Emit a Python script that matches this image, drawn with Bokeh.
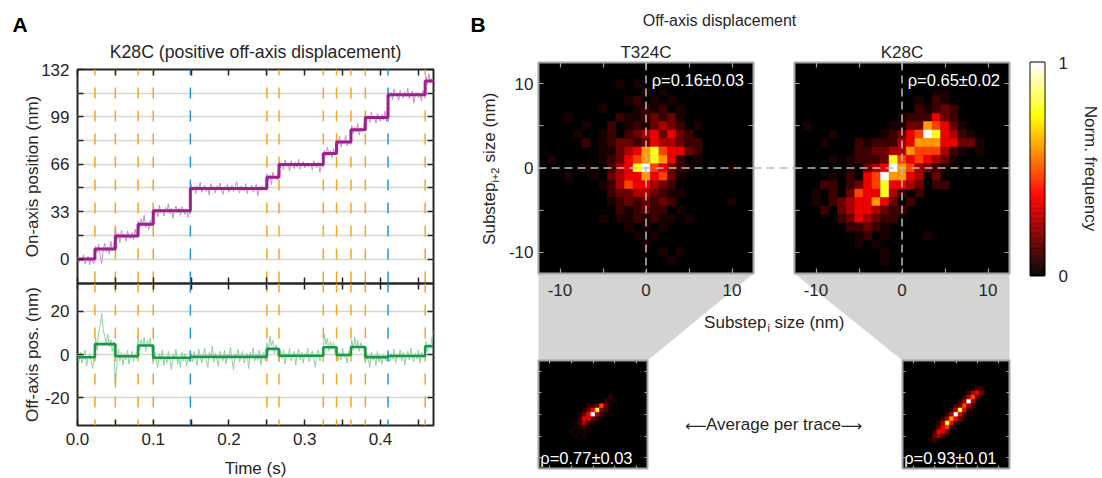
import numpy as np
from bokeh.plotting import figure
from bokeh.models import (Range1d, LinearAxis, FixedTicker, PrintfTickFormatter,
                          Label, GridBox, ColumnDataSource, Span)
from bokeh.core.properties import value
from bokeh.transform import linear_cmap
from bokeh.embed import file_html
from bokeh.resources import INLINE

W, H = 1102, 478
FONT = "Liberation Sans"
INK = "#262626"
FS = "17px"

# ======================= Panel A data =======================
SAMPLE_DT = 0.002  # s between trace samples
on_axis_trace = [
    1.5, -2.5, 0.5, -1.0, 3.0, -3.5, -0.5, 2.0, -4.0, 1.0, -1.5, -3.0,
    9.0, 4.5, 10.5, 2.0, -3.0, 6.5, 11.0, 5.0, 8.5, 3.5, 12.5, 6.0, 9.5,
    22.5, 13.0, 18.0, 11.5, 20.0, 15.0, 17.5, 12.5, 19.5, 16.0, 14.0, 18.5, 13.5, 21.0, 15.5,
    26.5, 21.0, 28.0, 23.5, 30.5, 22.0, 25.5, 20.5, 27.0, 24.0,
    36.5, 31.0, 35.0, 29.5, 37.5, 32.5, 34.5, 30.0, 36.0, 33.0, 38.5, 31.5, 35.5,
    28.5, 34.0, 37.0, 32.0, 35.5, 30.5, 36.5, 33.5, 31.0, 34.5, 29.0, 32.5,
    52.0, 47.5, 50.5, 45.5, 51.0, 48.0, 53.5, 46.5, 49.5, 51.5, 47.0, 50.0, 44.5,
    52.5, 48.5, 50.5, 46.0, 51.0, 49.0, 53.0, 47.5, 45.0, 50.5, 48.0, 52.0, 46.5,
    49.5, 51.5, 47.0, 50.0, 54.0, 48.5, 46.0, 51.0, 49.5, 47.5, 52.5, 45.5, 50.0,
    48.0, 51.5, 46.5, 49.0, 52.0, 44.0, 50.5, 47.5, 51.0, 48.5, 50.0,
    59.5, 54.5, 58.5, 52.0, 60.5, 56.0, 58.0, 55.0,
    68.0, 63.5, 67.0, 62.0, 69.0, 64.5, 66.5, 61.5, 68.5, 65.0, 63.0, 67.5, 64.0, 69.5, 62.5,
    66.0, 68.0, 63.5, 65.5, 67.0, 64.0, 66.5, 62.0, 68.5, 65.0, 63.5, 67.5, 60.5, 66.0, 64.5,
    76.0, 71.5, 78.0, 72.0, 75.5, 70.5, 77.0, 73.0,
    84.0, 79.5, 85.5, 78.0, 83.0, 80.5, 86.0, 79.0, 82.5, 80.0,
    93.0, 87.5, 92.0, 88.5, 94.5, 86.5, 91.5, 89.0, 92.5,
    101.0, 96.5, 100.0, 95.0, 102.5, 97.5, 99.5, 94.5, 101.5, 98.0, 96.0, 100.5, 97.0, 103.0, 95.5,
    117.0, 112.5, 116.0, 111.0, 118.5, 113.5, 115.5, 110.5, 117.5, 114.0, 112.0, 116.5, 113.0,
    119.0, 111.5, 115.0, 117.0, 108.5, 114.5, 116.0, 112.5, 115.5, 110.0, 117.5, 113.5,
    127.5, 121.5, 129.0, 122.5, 126.0, 123.5,
]
off_axis_trace = [
    0.5, -3.5, 1.0, -4.0, -0.5, 2.0, -5.5, -1.5, 0.5, -3.0, -6.5, -1.0,
    7.5, 2.0, 10.5, 14.0, 19.0, 11.0, 8.5, 5.0, 9.5, 3.5, 7.0, 1.5, 6.0,
    -15.5, -4.0, 2.5, -3.0, 1.0, -5.0, 0.5, -2.5, 2.0, -4.5, -1.0, 1.5, -3.5, 0.0, -2.0,
    8.5, 2.0, 7.0, 3.5, 8.0, 1.5, 6.5, 4.0, 7.5, 2.5,
    -4.5, 1.0, -3.5, -6.0, 0.5, -2.5, 2.0, -5.0, -1.0, -4.0, 1.5, -3.0, -7.0,
    0.0, -2.0, 2.5, -4.5, -1.5, -6.0, 1.0, -3.0, 0.5, -5.5, -2.0, -3.5,
    0.5, -3.5, 1.5, -2.0, -5.0, 2.5, -1.0, -4.0, 0.0, 3.0, -2.5, -6.0, 1.0,
    -1.5, 4.0, -3.5, 0.5, -2.0, -5.5, 1.5, -0.5, -3.0, 2.0, -4.5, 0.0, -1.5,
    3.5, -2.5, -7.0, 0.5, -1.0, 2.5, -3.5, -0.5, 1.5, -4.0, -2.0, 0.5, -6.5,
    1.0, -1.5, 3.0, -3.0, 0.0, -2.5, 2.0, -5.0, -0.5, 1.0, -3.0,
    5.5, 1.0, 8.5, 4.0, 6.5, 0.5, 4.5, 2.0,
    -3.5, 1.5, -2.0, 2.0, -4.5, 0.5, -1.5, 3.0, -3.0, -0.5, 1.5, -5.0, 0.0, 2.5, -2.5,
    1.0, -4.0, 0.5, -1.0, 3.0, -3.5, 0.0, 1.5, -2.0, -6.0, 0.5, 2.0, -3.0, -1.0, 1.0,
    9.5, 4.5, 7.5, 1.5, 6.0, 2.5, 5.5, 1.0,
    2.5, -3.0, 1.0, -2.5, 3.0, -1.5, 0.5, -4.0, 1.5, -1.0,
    7.0, 2.0, 8.0, 3.0, 6.5, 1.5, 5.5, 4.0, 2.5,
    -4.0, 0.5, -3.0, -6.0, 1.0, -2.5, -0.5, -5.0, 1.5, -3.5, -1.0, -4.5, 0.0, -2.0, -3.0,
    1.0, -3.5, 0.5, -2.0, 2.5, -4.0, 0.0, -1.5, 2.0, -3.0, 1.0, -5.0, -0.5,
    1.5, -2.5, 3.0, -1.0, -3.5, 0.5, -2.0, 2.0, -4.0, 1.0, -1.5, 0.5,
    6.0, 1.5, 5.0, 3.0, 8.0, 11.0,
]
step_times = [0.0, 0.023, 0.050, 0.080, 0.100, 0.149, 0.250, 0.266, 0.3245,
              0.342, 0.361, 0.380, 0.410, 0.459, 0.470]
on_axis_steps = [0.0, 7.0, 16.0, 24.2, 33.6, 49.2, 57.0, 65.8, 73.5, 81.5, 90.0,
                 98.5, 114.5, 124.0]
off_axis_steps = [-1.3, 4.8, -0.8, 4.2, -1.5, -1.1, 2.6, -0.6, 3.4, -0.2, 3.5,
                  -1.2, -0.7, 3.8]
boundary_type = ["sub", "sub", "sub", "sub", "full", "sub", "sub", "sub", "sub",
                 "sub", "sub", "full", "sub"]

time_ticks = [0.0, 0.1, 0.2, 0.3, 0.4]
time_minor = [0.05, 0.15, 0.25, 0.35, 0.45]
on_axis_ticks = [0, 33, 66, 99, 132]
on_axis_minor = [16.5, 49.5, 82.5, 115.5]
off_axis_ticks = [-20, 0, 20]
TIME_RANGE = (0.0, 0.47)
ON_RANGE = (-17.0, 132.0)
OFF_RANGE = (-33.0, 33.0)

# ======================= Panel B data =======================
# digit code per 1-nm bin -> normalised frequency
LEVEL_LOOKUP = [0.0, 0.04, 0.09, 0.16, 0.25, 0.35, 0.47, 0.60, 0.78, 1.0]
t324c_hist = [
    "00000 00000 00000 00000 00000",
    "00000 00000 00010 00000 00000",
    "00000 00001 01000 00000 00000",
    "00000 00000 00101 00000 00000",
    "00000 00000 12010 10000 00000",
    "00000 00100 01212 01000 00000",
    "00010 00002 11232 31000 00000",
    "00000 10020 12134 32010 00000",
    "00001 00120 23453 53200 00000",
    "00000 20123 32354 43220 00000",
    "00000 00113 45786 55320 00000",
    "01000 00123 56787 52010 00000",
    "00000 10024 58965 32100 00100",
    "00010 01034 55756 31000 00000",
    "00000 00124 65543 20000 00000",
    "00000 00023 34432 11000 00000",
    "00000 00012 32323 20000 00100",
    "00000 00002 12322 01000 00000",
    "00000 00101 12121 10100 00000",
    "00000 00000 10101 00000 00000",
    "00000 00000 01010 00000 00000",
    "00000 00000 00100 00000 00000",
    "00000 00000 00001 01000 00000",
    "00000 00000 00000 10000 00000",
    "00000 00000 00000 00000 00000",
]
k28c_hist = [
    "00000 00000 00000 00000 00000",
    "00000 00000 00000 00000 00000",
    "00000 00000 00000 00000 00000",
    "00000 00000 00000 01100 00000",
    "00000 00000 00001 02100 00000",
    "00000 00000 00002 12320 00000",
    "00000 00000 00122 25320 00000",
    "01000 00000 01133 76531 00000",
    "00001 00000 12356 98542 10000",
    "00010 00212 22457 77553 31000",
    "00000 00223 34476 66421 01000",
    "00001 01222 38656 54310 00000",
    "00000 01034 59764 32100 00000",
    "00001 02056 97754 03000 00000",
    "00022 02356 85543 02200 00000",
    "00102 03655 84202 00000 00000",
    "00102 34557 53020 00000 00000",
    "00020 34554 32200 00000 00000",
    "00000 23543 22000 00000 00000",
    "00000 02232 10000 00000 00000",
    "00000 00120 10000 10000 00000",
    "00000 00101 00000 00000 00000",
    "00000 00000 10000 00000 00000",
    "00000 00000 10000 00000 00000",
    "00000 00000 00000 00000 00000",
]
t324c_trace_avg = [
    "00000 00000 00000 00000 00000",
    "00000 00000 00000 00000 00000",
    "00000 00000 00000 00000 00000",
    "00000 00000 00000 00000 00000",
    "00000 00000 00000 00000 00000",
    "00000 00000 00000 00000 00000",
    "00000 00000 00000 00000 00000",
    "00000 00000 00000 00000 00000",
    "00000 00000 00000 02000 00000",
    "00000 00000 00000 21100 00000",
    "00000 00000 02236 30000 00000",
    "00000 00000 13583 20000 00000",
    "00000 00001 35942 01000 00000",
    "00000 00002 55320 00000 00000",
    "00000 00012 42100 00000 00000",
    "00000 00011 21000 00000 00000",
    "00000 00101 10000 00000 00000",
    "00000 00010 10000 00000 00000",
    "00000 00000 00000 00000 00000",
    "00000 00000 00000 00000 00000",
    "00000 00000 00000 00000 00000",
    "00000 00000 00000 00000 00000",
    "00000 00000 00000 00000 00000",
    "00000 00000 00000 00000 00000",
    "00000 00000 00000 00000 00000",
]
k28c_trace_avg = [
    "00000 00000 00000 00000 00000",
    "00000 00000 00000 00000 00000",
    "00000 00000 00000 00000 00000",
    "00000 00000 00000 00000 00000",
    "00000 00000 00000 00000 00000",
    "00000 00000 00000 00000 00000",
    "00000 00000 00000 00220 00000",
    "00000 00000 00000 24530 00000",
    "00000 00000 00002 46300 00000",
    "00000 00000 00024 94100 00000",
    "00000 00000 00236 42000 00000",
    "00000 00000 02485 20000 00000",
    "00000 00000 24952 00000 00000",
    "00000 00002 47530 00000 00000",
    "00000 00024 85200 00000 00000",
    "00000 00035 62000 00000 00000",
    "00000 00255 30000 00000 00000",
    "00000 00342 00000 00000 00000",
    "00000 01210 00000 00000 00000",
    "00000 00000 00000 00000 00000",
    "00000 00000 00000 00000 00000",
    "00000 00000 00000 00000 00000",
    "00000 00000 00000 00000 00000",
    "00000 00000 00000 00000 00000",
    "00000 00000 00000 00000 00000",
]
rho_t324c = "ρ=0.16±0.03"
rho_k28c = "ρ=0.65±0.02"
rho_t324c_avg = "ρ=0.77±0.03"
rho_k28c_avg = "ρ=0.93±0.01"
hm_ticks = [-10, 0, 10]
hm_minor = [-5, 5]
HM_RANGE = (-12.5, 12.5)

# ======================= layout (pixels from top-left) =======================
A_L, A_R = 77, 433
A1_T, A1_B = 69, 283
A2_T, A2_B = 283, 425
HM_T, HM_B = 62, 273
HM1_L, HM1_R = 538, 753
HM2_L, HM2_R = 794, 1009
CB_L, CB_R, CB_T, CB_B = 1030, 1044, 62, 275
SM_T, SM_B = 360, 468
SM1_L, SM1_R = 538, 647
SM2_L, SM2_R = 902, 1009

GRID = "#d6d6d6"
FRAME_GRAY = "#a3a3a3"
DASH_GRAY = "#bdbdbd"
CONNECT_GRAY = "#d4d4d4"
ORANGE = "#f6a623"
BLUE = "#1f9ad6"

# MATLAB-like "hot" colormap
HOT = []
for k in range(256):
    f = k / 255.0
    r = min(1.0, f / 0.375)
    g = min(1.0, max(0.0, (f - 0.375) / 0.375))
    b = min(1.0, max(0.0, (f - 0.75) / 0.25))
    HOT.append("#%02x%02x%02x" % (round(r * 255), round(g * 255), round(b * 255)))


def layer(L, T, R, B, xr, yr):
    p = figure(width=W, height=H, x_range=xr, y_range=yr, output_backend="svg",
               toolbar_location=None, x_axis_location=None, y_axis_location=None,
               min_border_left=L, min_border_right=W - R,
               min_border_top=T, min_border_bottom=H - B)
    p.frame_align = False
    p.border_fill_color = None
    p.background_fill_color = None
    p.outline_line_color = None
    p.xgrid.visible = False
    p.ygrid.visible = False
    return p


def axis(p, side, ticks, minor, color, labels, fmt="%d", tick_len=6, standoff=7, width=1.5):
    ax = LinearAxis(ticker=FixedTicker(ticks=ticks, minor_ticks=minor))
    ax.axis_line_color = None
    ax.major_tick_in = tick_len
    ax.major_tick_out = 0
    ax.minor_tick_in = tick_len
    ax.minor_tick_out = 0
    ax.major_tick_line_color = color
    ax.minor_tick_line_color = color
    ax.major_tick_line_width = width
    ax.minor_tick_line_width = width
    ax.major_label_text_font = FONT
    ax.major_label_text_font_size = FS
    ax.major_label_text_color = INK
    ax.major_label_standoff = standoff
    ax.formatter = PrintfTickFormatter(format=fmt if labels else "")
    p.add_layout(ax, side)
    return ax


def txt(p, x, y, s, size=FS, align="center", baseline="middle", angle=0.0,
        color=INK, style="normal", font=FONT):
    p.text(x=[x], y=[H - y], text=[s], text_font=value(font), text_font_size=size,
           text_align=align, text_baseline=baseline, angle=angle,
           text_color=color, text_font_style=style)


# ---------------- background layer (texts + connectors) ----------------
bg = layer(0, 0, W, H, Range1d(0, W), Range1d(0, H))
bg.min_border = 0
bg.background_fill_color = "white"
bg.border_fill_color = "white"

bg.patches(xs=[[HM1_L, HM1_R, SM1_R, SM1_L], [HM2_L, HM2_R, SM2_R, SM2_L]],
           ys=[[H - HM_B, H - HM_B, H - SM_T, H - SM_T], [H - HM_B, H - HM_B, H - SM_T, H - SM_T]],
           fill_color=CONNECT_GRAY, line_color=None)
y0_px = HM_T + (HM_B - HM_T) / 2.0
bg.segment(x0=[HM1_R], y0=[H - y0_px], x1=[HM2_L], y1=[H - y0_px],
           line_color=DASH_GRAY, line_dash="8 5", line_width=1.5)

txt(bg, 12, 24, "A", size="21px", align="left", style="bold", color="black")
txt(bg, 470, 24, "B", size="21px", align="left", style="bold", color="black")
txt(bg, (A_L + A_R) / 2.0, 51, "K28C (positive off-axis displacement)", size="17.7px")
txt(bg, 32, (A1_T + A1_B) / 2.0, "On-axis position (nm)", angle=np.pi / 2)
txt(bg, 32, (A2_T + A2_B) / 2.0, "Off-axis pos. (nm)", angle=np.pi / 2)
txt(bg, (A_L + A_R) / 2.0, 468, "Time (s)")
txt(bg, 719, 20, "Off-axis displacement", size="16px")
txt(bg, (HM1_L + HM1_R) / 2.0, 52, "T324C")
txt(bg, (HM2_L + HM2_R) / 2.0, 52, "K28C")
# x label: Substep_i size (nm)
P = 766
txt(bg, P, 322, "Substep", align="right")
txt(bg, P + 1, 327, "i", size="11px", align="left")
txt(bg, P + 8, 322, "size (nm)", align="left")
# y label: Substep_{i+2} size (nm), reading upwards
Q = 182
txt(bg, 489, Q, "Substep", align="right", angle=np.pi / 2)
txt(bg, 494, Q, "i+2", size="11px", align="left", angle=np.pi / 2)
txt(bg, 489, Q - 20, "size (nm)", align="left", angle=np.pi / 2)
# centre caption with long arrows
txt(bg, 773, 424, "Average per trace")
txt(bg, 706, 425, "\u27f5", align="right", font="DejaVu Sans", size="15px")
txt(bg, 840, 425, "\u27f6", align="left", font="DejaVu Sans", size="15px")
txt(bg, 1090, 168, "Norm. frequency", angle=-np.pi / 2)

# ---------------- panel A, on-axis ----------------
t_on = np.arange(len(on_axis_trace)) * SAMPLE_DT
t_off = np.arange(len(off_axis_trace)) * SAMPLE_DT
bounds = step_times[1:-1]
bcolors = [BLUE if k == "full" else ORANGE for k in boundary_type]

pa = layer(A_L, A1_T, A_R, A1_B, Range1d(*TIME_RANGE), Range1d(*ON_RANGE))
pa.ygrid.visible = True
pa.ygrid.ticker = FixedTicker(ticks=on_axis_ticks, minor_ticks=on_axis_minor)
pa.ygrid.grid_line_color = GRID
pa.ygrid.minor_grid_line_color = GRID
pa.ygrid.grid_line_width = 1.5
pa.ygrid.minor_grid_line_width = 1.5
pa.outline_line_color = INK
pa.outline_line_width = 2
axis(pa, "left", on_axis_ticks, on_axis_minor, INK, True, standoff=8)
axis(pa, "right", on_axis_ticks, on_axis_minor, INK, False)
axis(pa, "above", time_ticks, time_minor, INK, False)
axis(pa, "below", time_ticks, time_minor, INK, False)
pa.line(t_on, on_axis_trace, line_color="#c98fc6", line_width=1.0)
pa.segment(x0=bounds, y0=[ON_RANGE[1]] * len(bounds), x1=bounds, y1=[ON_RANGE[0]] * len(bounds),
           line_color=bcolors, line_dash="11 12", line_dash_offset=5, line_width=1.5)
pa.step(step_times, on_axis_steps + [on_axis_steps[-1]], mode="after",
        line_color="#9b2190", line_width=3)

# ---------------- panel A, off-axis ----------------
pb = layer(A_L, A2_T, A_R, A2_B, Range1d(*TIME_RANGE), Range1d(*OFF_RANGE))
pb.ygrid.visible = True
pb.ygrid.ticker = FixedTicker(ticks=off_axis_ticks)
pb.ygrid.grid_line_color = GRID
pb.ygrid.grid_line_width = 1.5
pb.outline_line_color = INK
pb.outline_line_width = 2
axis(pb, "left", off_axis_ticks, [], INK, True, standoff=8)
axis(pb, "right", off_axis_ticks, [], INK, False)
axis(pb, "above", time_ticks, time_minor, INK, False)
axis(pb, "below", time_ticks, time_minor, INK, True, fmt="%.1f", standoff=7)
pb.line(t_off, off_axis_trace, line_color="#8fd19c", line_width=1.0)
pb.segment(x0=bounds, y0=[OFF_RANGE[1]] * len(bounds), x1=bounds, y1=[OFF_RANGE[0]] * len(bounds),
           line_color=bcolors, line_dash="11 12", line_dash_offset=2, line_width=1.5)
pb.step(step_times, off_axis_steps + [off_axis_steps[-1]], mode="after",
        line_color="#17994a", line_width=2.6)


# ---------------- heatmaps ----------------
def heatmap(L, R, T, B, rows, left_labels, bottom_labels, big=True):
    p = layer(L, T, R, B, Range1d(*HM_RANGE), Range1d(*HM_RANGE))
    p.background_fill_color = "black"
    p.outline_line_color = FRAME_GRAY
    p.outline_line_width = 2
    xs, ys, vs = [], [], []
    for r, row in enumerate(rows):
        for c, ch in enumerate("".join(row.split())):
            if ch != "0":
                xs.append(c - 12)
                ys.append(12 - r)
                vs.append(LEVEL_LOOKUP[int(ch)])
    src = ColumnDataSource(dict(x=xs, y=ys, v=vs))
    cmap = linear_cmap("v", HOT, 0, 1)
    p.rect("x", "y", 1, 1, source=src, fill_color=cmap, line_color=cmap, line_width=0.5)
    tl = 5 if big else 3
    axis(p, "left", hm_ticks, hm_minor, FRAME_GRAY, left_labels, tick_len=tl, standoff=5, width=1.2)
    axis(p, "below", hm_ticks, hm_minor, FRAME_GRAY, bottom_labels, tick_len=tl, standoff=10, width=1.2)
    axis(p, "right", hm_ticks, hm_minor, FRAME_GRAY, False, tick_len=tl, width=1.2)
    axis(p, "above", hm_ticks, hm_minor, FRAME_GRAY, False, tick_len=tl, width=1.2)
    return p


RHO_FS = "16.5px"
h1 = heatmap(HM1_L, HM1_R, HM_T, HM_B, t324c_hist, True, True)
h2 = heatmap(HM2_L, HM2_R, HM_T, HM_B, k28c_hist, False, True)
for h, rho in ((h1, rho_t324c), (h2, rho_k28c)):
    h.add_layout(Span(location=0, dimension="width", line_color=DASH_GRAY,
                      line_dash="8 5", line_width=1.5))
    h.add_layout(Span(location=0, dimension="height", line_color=DASH_GRAY,
                      line_dash="8 5", line_width=1.5))
    h.add_layout(Label(x=11.4, y=10.4, text=rho, text_align="right", text_baseline="alphabetic",
                       text_color="white", text_font=FONT, text_font_size=RHO_FS,
                       background_fill_color="black"))

s1 = heatmap(SM1_L, SM1_R, SM_T, SM_B, t324c_trace_avg, False, False, big=False)
s2 = heatmap(SM2_L, SM2_R, SM_T, SM_B, k28c_trace_avg, False, False, big=False)
for s, rho in ((s1, rho_t324c_avg), (s2, rho_k28c_avg)):
    s.add_layout(Label(x=-12.1, y=-10.1, text=rho, text_align="left", text_baseline="alphabetic",
                       text_color="white", text_font=FONT, text_font_size=RHO_FS))

# ---------------- colorbar ----------------
cb = layer(CB_L, CB_T, CB_R, CB_B, Range1d(0, 1), Range1d(0, 1))
cb_levels = [(k + 0.5) / 256.0 for k in range(256)]
cb_src = ColumnDataSource(dict(x=[0.5] * 256, y=cb_levels, v=cb_levels))
cbm = linear_cmap("v", HOT, 0, 1)
cb.rect("x", "y", 1, 1.0 / 256, source=cb_src, fill_color=cbm, line_color=cbm, line_width=0.5)
cb.outline_line_color = "black"
cb.outline_line_width = 2
cax = axis(cb, "right", [0, 1], [], INK, True, tick_len=0, standoff=14)
cax.major_tick_line_color = None

layers = [bg, pa, pb, h1, h2, s1, s2, cb]
root = GridBox(children=[(f, 0, 0) for f in layers])
open("out.html", "w").write(file_html(root, INLINE))
